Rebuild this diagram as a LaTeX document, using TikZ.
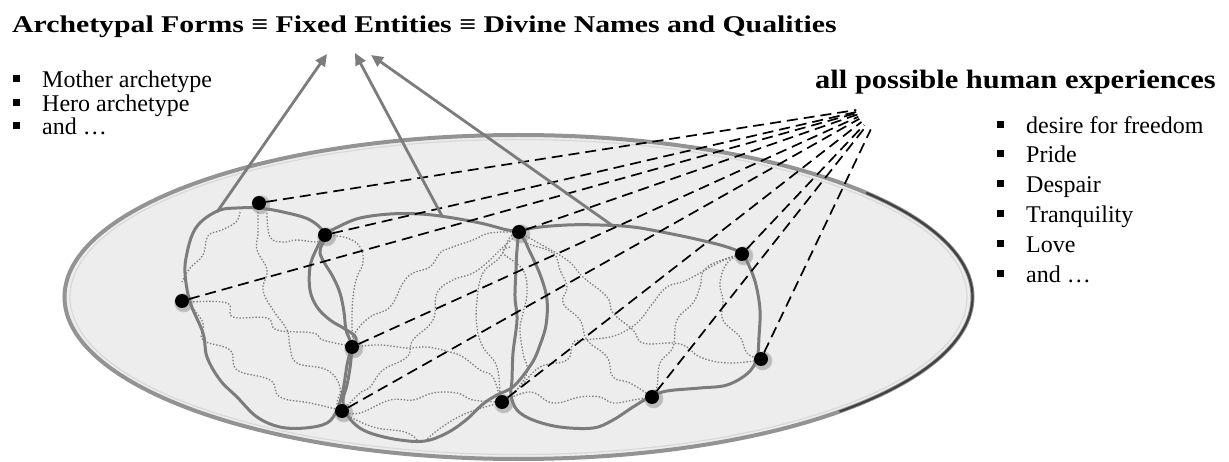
\documentclass[tikz,border=0pt]{standalone}
\usepackage{fontspec}
\setmainfont{Liberation Serif}
\newfontfamily\headfont[FakeStretch=1.15]{Liberation Serif}
\newfontfamily\titlefont[FakeStretch=1.24]{Liberation Serif}
\usetikzlibrary{arrows.meta,shadows}

\definecolor{blobgray}{HTML}{7C7C7C}
\definecolor{webgray}{HTML}{7E7E7E}
\definecolor{platefill}{HTML}{EDEDED}

\tikzset{
  dot/.style={circle,fill=black,inner sep=0pt,minimum size=14pt,
    circular drop shadow={shadow xshift=1pt,shadow yshift=-1pt,shadow scale=1.45,opacity=.45}},
  sq/.style={fill=black,inner sep=0pt,minimum size=7pt},
  blob/.style={blobgray,line width=3pt},
  web/.style={webgray,line width=1.3pt,dash pattern=on 1.4pt off 1.8pt},
  ray/.style={black,line width=1.7pt,dash pattern=on 11pt off 6pt,shorten >=26pt},
  lift/.style={blobgray,line width=2.8pt,-{Triangle[length=12pt,width=11pt]}},
  item/.style={anchor=base west,inner sep=0pt,font=\fontsize{24}{28}\selectfont}
}

\begin{document}
\begin{tikzpicture}[x=1pt,y=-1pt]
  \useasboundingbox (0,0) rectangle (1229,462);

  % the plate
  \fill[platefill] (518.5,297) ellipse [x radius=454pt,y radius=162pt];
  \draw[gray!85,line width=4pt] (518.5,297) ellipse [x radius=454pt,y radius=162pt];
  \draw[gray!30,line width=1.2pt] (518.5,297) ellipse [x radius=448.5pt,y radius=157.5pt];
  \draw[black!75,line width=2.2pt] (518.5,297) ++(-45:454pt and 162pt)
    arc [start angle=-45,end angle=40,x radius=454pt,y radius=162pt];

  % dotted paths inside the regions
  \draw[web] plot[smooth,tension=.7] coordinates {(240,212) (236,222) (222,230) (208,236) (203,255) (190,268) (182,282)};
  \draw[web] plot[smooth,tension=.7] coordinates {(258,212) (258,233) (257,250) (267,270) (263,290) (273,310) (287,330) (290,347) (297,363) (327,370) (340,387) (337,403) (341,411)};
  \draw[web] plot[smooth,tension=.7] coordinates {(267,213) (270,237) (283,242) (297,240) (317,242) (325,238)};
  \draw[web] plot[smooth,tension=.7] coordinates {(190,302) (227,303) (233,317) (267,318) (277,330) (313,333) (323,340) (350,346)};
  \draw[web] plot[smooth,tension=.7] coordinates {(190,305) (203,323) (203,340) (230,350) (237,370) (270,380) (280,397) (310,403) (340,410)};
  \draw[web] plot[smooth,tension=.7] coordinates {(327,235) (347,238) (360,247) (363,263) (357,277) (353,297) (352,323) (353,343)};
  \draw[web] plot[smooth,tension=.7] coordinates {(352,347) (380,345) (407,348) (427,347) (450,352) (463,357) (480,370) (493,377) (500,400)};
  \draw[web] plot[smooth,tension=.7] coordinates {(355,345) (355,333) (370,317) (390,307) (403,283) (413,273) (430,267) (440,253) (450,248) (473,240) (490,233) (518,232)};
  \draw[web] plot[smooth,tension=.7] coordinates {(343,410) (360,393) (370,387) (383,370) (407,357) (413,340) (433,320) (437,293) (453,280) (473,273) (490,260) (500,250) (518,234)};
  \draw[web] plot[smooth,tension=.7] coordinates {(343,412) (360,413) (390,400) (413,400) (433,393) (457,393) (473,400) (500,402)};
  \draw[web] plot[smooth,tension=.7] coordinates {(518,234) (510,237) (500,257) (483,273) (477,300) (477,327) (483,347) (497,367) (500,400)};
  \draw[web] plot[smooth,tension=.7] coordinates {(345,414) (373,427) (405,432) (418,441)};
  \draw[web] plot[smooth,tension=.7] coordinates {(425,441) (442,427) (467,413) (500,403)};
  \draw[web] plot[smooth,tension=.7] coordinates {(520,233) (527,243) (553,253) (560,270) (567,287) (563,303) (580,320) (587,340) (607,357) (613,377) (630,383) (652,397)};
  \draw[web] plot[smooth,tension=.7] coordinates {(520,233) (533,240) (567,260) (583,277) (607,297) (613,313) (633,330) (643,343) (673,343) (687,347) (700,357) (727,363) (761,360)};
  \draw[web] plot[smooth,tension=.7] coordinates {(742,254) (720,262) (687,280) (667,287) (653,303) (640,320) (627,330) (610,337) (583,340) (573,343) (567,360) (540,367) (520,387) (502,402)};
  \draw[web] plot[smooth,tension=.7] coordinates {(742,254) (727,263) (720,283) (723,300) (723,320) (740,337) (747,353) (761,360)};
  \draw[web] plot[smooth,tension=.7] coordinates {(742,254) (707,267) (700,287) (693,303) (677,320) (673,347) (660,363) (657,387) (652,397)};
  \draw[web] plot[smooth,tension=.7] coordinates {(502,402) (530,392) (553,403) (580,397) (600,397) (613,403) (633,400) (652,397)};
  \draw[web] plot[smooth,tension=.7] coordinates {(510,247) (503,253) (523,270) (527,293) (523,313) (520,330) (523,353) (527,373) (512,395)};

  % the three regions
  \draw[blob] plot[smooth cycle,tension=.6] coordinates {(258,208) (283,212) (310,220) (325,235) (320,253) (333,277) (340,293) (344,312) (346,330) (351,345) (347,365) (343,390) (337,410) (327,423) (305,428) (280,427) (257,417) (237,397) (220,380) (207,357) (203,333) (190,302) (185,273) (187,253) (193,233) (203,220) (220,210) (237,208)};
  \draw[blob] plot[smooth cycle,tension=.6] coordinates {(325,235) (340,226) (360,218) (390,214) (420,214) (447,217) (480,223) (503,229) (520,234) (530,252) (541,277) (547,300) (546,325) (540,345) (532,363) (514,386) (497,395) (483,404) (466,420) (447,433) (425,441) (400,440) (373,434) (357,426) (346,413) (343,400) (347,385) (350,368) (352,352) (356,338) (345,329) (330,320) (317,307) (310,290) (310,267) (316,250)};
  \draw[blob] plot[smooth cycle,tension=.6] coordinates {(520,233) (533,228) (567,225) (600,225) (633,227) (667,233) (700,240) (727,247) (742,254) (750,268) (756,285) (760,310) (759,337) (757,358) (748,373) (727,385) (700,388) (667,391) (650,397) (633,407) (613,420) (593,428) (560,427) (533,420) (517,410) (511,395) (512,380) (513,353) (517,320) (515,297) (516,270) (517,250)};

  % entities
  \node[dot] (d1) at (259,203) {};
  \node[dot] (d2) at (325,235) {};
  \node[dot] (d3) at (182,301) {};
  \node[dot] (d4) at (352,347) {};
  \node[dot] (d5) at (342,411) {};
  \node[dot] (d6) at (502,402) {};
  \node[dot] (d7) at (519,232) {};
  \node[dot] (d8) at (742,254) {};
  \node[dot] (d9) at (761,359) {};
  \node[dot] (d10) at (652,397) {};

  \coordinate (hub) at (882,106);
  \draw[ray] (d1) -- (hub);
  \draw[ray] (d2) -- (hub);
  \draw[ray] (d3) -- (hub);
  \draw[ray] (d4) -- (hub);
  \draw[ray] (d5) -- (hub);
  \draw[ray] (d6) -- (hub);
  \draw[ray] (d7) -- (hub);
  \draw[ray] (d8) -- (hub);
  \draw[ray] (d9) -- (hub);
  \draw[ray] (d10) -- (hub);

  % regions point up to the forms
  \coordinate (r1) at (217,212);
  \coordinate (r2) at (442,216);
  \coordinate (r3) at (613,226);
  \coordinate (t1) at (327,54);
  \coordinate (t2) at (355,53);
  \coordinate (t3) at (371,55);
  \draw[lift] (r1) -- (t1);
  \draw[lift] (r2) -- (t2);
  \draw[lift] (r3) -- (t3);

  \node[anchor=base west,inner sep=0pt] (title) at (12,33)
    {\titlefont\bfseries\fontsize{24}{28}\selectfont Archetypal Forms ≡ Fixed Entities ≡ Divine Names and Qualities};
  \node[anchor=base west,inner sep=0pt] (exp) at (815,89)
    {\headfont\bfseries\fontsize{26.5}{30}\selectfont all possible human experiences};

  \node[sq] (b1) at (16,79) {};
  \node[sq] (b2) at (16,103) {};
  \node[sq] (b3) at (16,126) {};
  \node[item] (m1) at (42,88) {Mother archetype};
  \node[item] (m2) at (42,112) {Hero archetype};
  \node[item] (m3) at (42,135) {and \dots};

  \node[sq] (e1) at (1000,125) {};
  \node[sq] (e2) at (1000,154) {};
  \node[sq] (e3) at (1000,184) {};
  \node[sq] (e4) at (1000,214) {};
  \node[sq] (e5) at (1000,244) {};
  \node[sq] (e6) at (1000,274) {};
  \node[item] (x1) at (1026,134) {desire for freedom};
  \node[item] (x2) at (1026,163) {Pride};
  \node[item] (x3) at (1026,193) {Despair};
  \node[item] (x4) at (1026,223) {Tranquility};
  \node[item] (x5) at (1026,253) {Love};
  \node[item] (x6) at (1026,283) {and \dots};
\end{tikzpicture}
\end{document}
